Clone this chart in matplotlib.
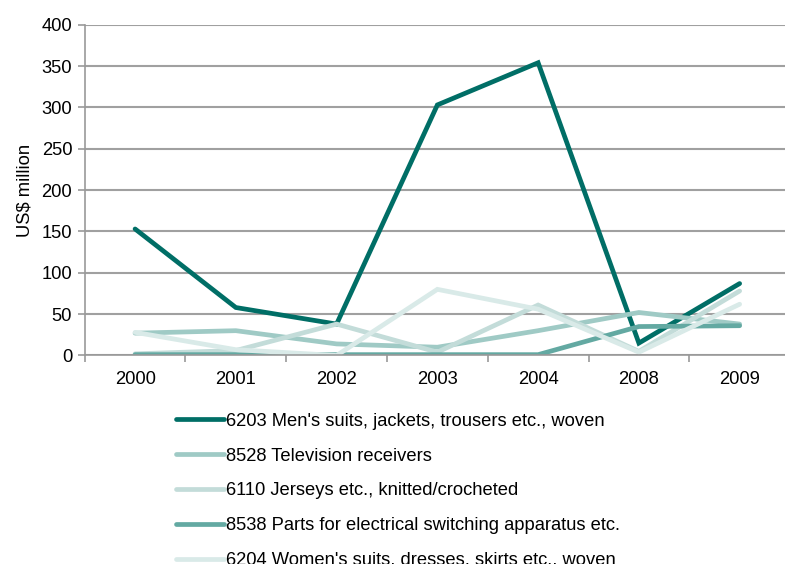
import matplotlib.pyplot as plt
import numpy as np

plt.rcParams['font.family'] = ['Liberation Sans', 'DejaVu Sans']

years = ["2000", "2001", "2002", "2003", "2004", "2008", "2009"]

men_suits = [153, 58, 38, 303, 354, 15, 87]
television = [27, 30, 14, 10, 30, 52, 38]
jerseys = [2, 6, 38, 4, 61, 5, 78]
switching_parts = [1, 1, 1, 1, 1, 35, 36]
women_suits = [28, 7, 0, 80, 56, 4, 62]

series = [
    ("6203 Men's suits, jackets, trousers etc., woven", men_suits, "#006e66"),
    ("8528 Television receivers", television, "#9fcac5"),
    ("6110 Jerseys etc., knitted/crocheted", jerseys, "#c3dcd9"),
    ("8538 Parts for electrical switching apparatus etc.", switching_parts, "#63a9a2"),
    ("6204 Women's suits, dresses, skirts etc., woven", women_suits, "#d9eae8"),
]

fs = 13.2

fig = plt.figure(figsize=(7.85, 5.64), dpi=100)
ax = fig.add_axes([0.1079, 0.3697, 0.8985, 0.5865])

x = np.arange(len(years))
for label, vals, col in series:
    ax.plot(x, vals, color=col, linewidth=3.4, label=label,
            solid_capstyle="round", solid_joinstyle="miter")

ax.set_xlim(-0.5, len(years) - 0.5)
ax.set_ylim(0, 400)
ax.set_yticks(np.arange(0, 401, 50))
ax.set_xticks(x)
ax.set_xticklabels(years)
ax.set_xticks(np.arange(-0.5, len(years) + 0.5, 1), minor=True)
ax.tick_params(axis="x", which="major", length=0, pad=11, labelsize=fs)
ax.tick_params(axis="x", which="minor", length=5, color="#999999", width=1.2)
ax.tick_params(axis="y", length=5, color="#999999", width=1.2, labelsize=fs, pad=4)
ax.yaxis.grid(True, color="#a0a0a0", linewidth=1.5)
ax.set_axisbelow(True)
for side in ["top", "right"]:
    ax.spines[side].set_visible(False)
for side in ["left", "bottom"]:
    ax.spines[side].set_color("#999999")
    ax.spines[side].set_linewidth(1.2)
ax.set_ylabel("US$ million", fontsize=fs, labelpad=6)

fig.legend(loc="upper left", bbox_to_anchor=(0.224, 0.268), frameon=False,
           fontsize=fs, handlelength=2.6, handletextpad=0.15,
           labelspacing=0.97, borderpad=0, borderaxespad=0)

fig.savefig("out.png", dpi=100)
